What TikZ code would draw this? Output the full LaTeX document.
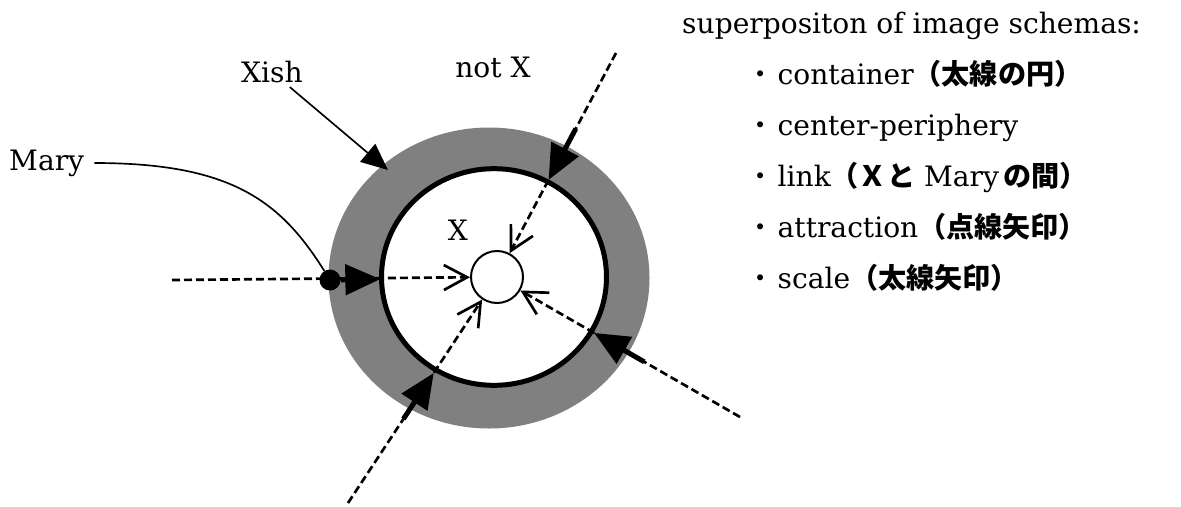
\documentclass[tikz,border=0pt]{standalone}
\usepackage{fontspec}
\setmainfont{DejaVu Serif}
\newfontfamily\jp{Noto Sans CJK JP}
\newcommand\jtext[1]{{\jp\bfseries\fontsize{24}{28}\selectfont #1}}
\newcommand\jdot{{\jp\fontsize{24}{28}\selectfont ・}}
\usetikzlibrary{arrows.meta,calc,positioning,shapes.geometric}

\begin{document}
\begin{tikzpicture}[x=0.3mm, y=-0.3mm,
  every node/.style={font=\fontsize{24}{29}\selectfont},
  ring/.style={ellipse, fill=black!50, minimum width=96.3mm, minimum height=90.3mm, inner sep=0pt},
  core/.style={ellipse, draw, line width=1.5mm, fill=white, minimum width=67.5mm, minimum height=65mm, inner sep=0pt},
  centre/.style={circle, draw, line width=0.6mm, fill=white, minimum size=15.6mm, inner sep=0pt},
  pull/.style={line width=0.8mm, dash pattern=on 2.4mm off 1.2mm, -{Straight Barb[length=7mm,width=7.5mm]}},
  push/.style={line width=1.5mm, -{Triangle[length=10.5mm,width=9mm]}},
  item/.style={anchor=base west, inner sep=0pt}]
  \useasboundingbox (0,0) rectangle (1181,506);

  \node[ring] (ring) at (489,278) {};
  \node[core] (core) at (494,277) {};
  \node[centre] (centre) at (497,277) {};

  \coordinate (w) at (172,280);
  \coordinate (ne) at (616,53);
  \coordinate (sw) at (348,503);
  \coordinate (se) at (740,417);

  \draw[pull] (w) -- (centre);
  \draw[pull] (ne) -- (centre);
  \draw[pull] (sw) -- (centre);
  \draw[pull] (se) -- (centre);

  \draw[push] ($(centre)!50.4mm!(ne)$) -- ($(centre)!33mm!(ne)$);
  \draw[push] ($(centre)!51mm!(sw)$) -- ($(centre)!34.5mm!(sw)$);
  \draw[push] ($(centre)!51mm!(se)$) -- ($(centre)!33.6mm!(se)$);

  \node[circle, fill, minimum size=6.3mm, inner sep=0pt] (dot) at (330,280) {};
  \draw[push] (dot) -- ($(centre)!35mm!(dot)$);

  \node[anchor=west, inner sep=3mm] (mary) at (-1,163) {Mary};
  \draw[line width=0.5mm] (mary) .. controls (230,163) and (280,200) .. (dot);

  \node (xish) at (272,72) {Xish};
  \coordinate (xishtip) at (388,170);
  \draw[line width=0.5mm, -{Triangle[length=8mm,width=7mm]}] (xish) -- (xishtip);

  \node (notx) at (493,67) {not X};
  \node (x) at (458,230) {X};

  \node[item] (title) at (682,33) {superpositon of image schemas:};
  \node[item] (i1) at (746,84) {\jdot\hspace{1mm}container\jtext{（太線の円）}};
  \node[item, below=15.3mm of i1.base west, anchor=base west] (i2) {\jdot\hspace{1mm}center-periphery};
  \node[item, below=15.3mm of i2.base west, anchor=base west] (i3) {\jdot\hspace{1mm}link\jtext{（Ｘと} Mary\,\jtext{の間）}};
  \node[item, below=15.3mm of i3.base west, anchor=base west] (i4) {\jdot\hspace{1mm}attraction\jtext{（点線矢印）}};
  \node[item, below=15.3mm of i4.base west, anchor=base west] (i5) {\jdot\hspace{1mm}scale\jtext{（太線矢印）}};
\end{tikzpicture}
\end{document}
